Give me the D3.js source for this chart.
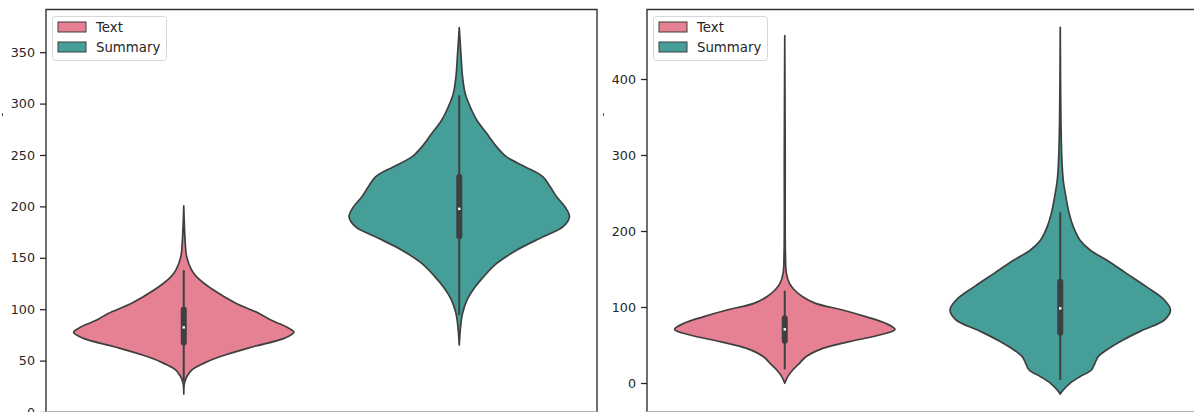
<!DOCTYPE html>
<html>
<head>
<meta charset="utf-8">
<script src="https://cdn.jsdelivr.net/npm/d3@7"></script>
<style>
  body { margin: 0; background: #fff; }
  svg { display: block; font-family: "DejaVu Sans", sans-serif; }
</style>
</head>
<body>
<div id="chart"></div>
<script>
const width = 1194;
const height = 412;

const categories = ["Text", "Summary"];
const colors = ["#e68193", "#459e97"];

// violin outlines: [value, relative width]
const leftText = [[17.5, 0], [27.9, 0.006], [34.3, 0.027], [40.8, 0.072], [47.3, 0.18], [53.7, 0.325],
    [63.5, 0.63], [71.6, 0.91], [77.5, 1], [82.9, 0.93], [89.4, 0.79], [95.9, 0.685], [105.6, 0.477],
    [118.6, 0.27], [131.5, 0.117], [138, 0.072], [150.9, 0.027], [167.2, 0.012], [200.5, 0]];
const leftSummary = [[65.1, 0], [82.9, 0.012], [95.9, 0.03], [108.8, 0.07], [121.8, 0.145], [131.5, 0.22],
    [144.5, 0.34], [157.4, 0.52], [170.4, 0.76], [180.1, 0.94], [189.8, 1], [199.5, 0.96], [209.2, 0.885],
    [219, 0.825], [228.7, 0.76], [238.4, 0.6], [248.1, 0.43], [257.9, 0.34], [270.8, 0.25], [283.8, 0.16],
    [296.7, 0.1], [309.7, 0.054], [325.9, 0.03], [348.6, 0.015], [373.8, 0]];
const rightText = [[-0.4, 0], [8.3, 0.027], [17.1, 0.072], [25.9, 0.133], [34.6, 0.193], [45.6, 0.345],
    [54.4, 0.585], [63.2, 0.86], [70.6, 1], [78.5, 0.915], [87.3, 0.735], [96.1, 0.525], [104.8, 0.28],
    [113.6, 0.163], [122.4, 0.088], [131.1, 0.043], [144.3, 0.015], [170.6, 0.006], [302, 0.004], [457, 0]];
const rightSummary = [[-14.5, 0], [-9.2, 0.027], [-0.4, 0.088], [8.3, 0.178], [17.1, 0.283], [25.9, 0.314],
    [34.6, 0.344], [43.4, 0.42], [56.6, 0.57], [69.7, 0.75], [82.9, 0.945], [96.1, 1], [109.2, 0.945],
    [126.8, 0.78], [144.3, 0.6], [161.8, 0.42], [175, 0.27], [188.2, 0.178], [205.7, 0.118], [223.2, 0.081],
    [245.2, 0.051], [267.1, 0.027], [293.4, 0.015], [346, 0.006], [468, 0]];

// inner boxes: [q1, q3, median, whisker low, whisker high]
const leftBoxes = [[67.7, 99.8, 82.3, 30, 138], [171, 228.7, 197.6, 94.3, 308]];
const rightBoxes = [[55.7, 85.1, 70.6, 18, 121.5], [66.2, 133.3, 98.2, 3.9, 224.6]];

const leftTicks = [0, 50, 100, 150, 200, 250, 300, 350];
const rightTicks = [0, 100, 200, 300, 400];

const svg = d3.select("#chart").append("svg")
    .attr("width", width)
    .attr("height", height);

function drawPanel(x0, x1, yScale, ticks, violins, boxes) {
    const g = svg.append("g");

    const xScale = d3.scaleBand().domain(categories).range([x0, x1]);
    const half = xScale.bandwidth() * 0.4;

    violins.forEach((v, i) => {
        const cx = xScale(categories[i]) + xScale.bandwidth() / 2;
        const area = d3.area()
            .y(d => yScale(d[0]))
            .x0(d => cx - d[1] * half)
            .x1(d => cx + d[1] * half)
            .curve(d3.curveCatmullRom.alpha(0.5));

        g.append("path")
            .attr("d", area(v))
            .attr("fill", colors[i])
            .attr("stroke", "#3f3f3f")
            .attr("stroke-width", 1.7)
            .attr("stroke-linejoin", "round");

        const b = boxes[i];
        g.append("line")
            .attr("x1", cx).attr("x2", cx)
            .attr("y1", yScale(b[3])).attr("y2", yScale(b[4]))
            .attr("stroke", "#3f3f3f")
            .attr("stroke-width", 2);
        g.append("line")
            .attr("x1", cx).attr("x2", cx)
            .attr("y1", yScale(b[0])).attr("y2", yScale(b[1]))
            .attr("stroke", "#3f3f3f")
            .attr("stroke-width", 6)
            .attr("stroke-linecap", "round");
        g.append("rect")
            .attr("x", cx - 1.2)
            .attr("y", yScale(b[2]) - 1.2)
            .attr("width", 2.4)
            .attr("height", 2.4)
            .attr("fill", "#fff");
    });

    // spines
    g.append("path")
        .attr("d", `M${x0},${height} V9.5 H${x1} V${height}`)
        .attr("fill", "none")
        .attr("stroke", "#333")
        .attr("stroke-width", 1.4);
    g.append("line")
        .attr("x1", x0).attr("x2", x1)
        .attr("y1", 411.5).attr("y2", 411.5)
        .attr("stroke", "#b0b0b0")
        .attr("stroke-width", 1);

    const yAxis = d3.axisLeft(yScale)
        .tickValues(ticks)
        .tickSize(6)
        .tickPadding(5);
    const axisG = g.append("g")
        .attr("transform", `translate(${x0},0)`)
        .call(yAxis);
    axisG.select(".domain").remove();
    axisG.selectAll(".tick line").attr("stroke", "#262626").attr("stroke-width", 1.25);
    axisG.selectAll(".tick text")
        .attr("fill", "#262626")
        .style("font-size", "12.7px")
        .style("font-family", "DejaVu Sans, sans-serif");

    // legend
    const lg = g.append("g").attr("transform", `translate(${x0 + 6.5},16.5)`);
    lg.append("rect")
        .attr("width", 114)
        .attr("height", 44)
        .attr("rx", 3)
        .attr("fill", "#fff")
        .attr("fill-opacity", 0.8)
        .attr("stroke", "#d6d6d6")
        .attr("stroke-width", 1);
    categories.forEach((c, i) => {
        lg.append("rect")
            .attr("x", 5.5)
            .attr("y", 5.5 + i * 20)
            .attr("width", 28)
            .attr("height", 10)
            .attr("fill", colors[i])
            .attr("stroke", "#3f3f3f")
            .attr("stroke-width", 1);
        lg.append("text")
            .attr("x", 43.5)
            .attr("y", 15.2 + i * 20)
            .attr("fill", "#262626")
            .style("font-size", "13.3px")
            .text(c);
    });

    // clipped y label remnant
    g.append("rect")
        .attr("x", x0 - 44)
        .attr("y", 113)
        .attr("width", 1)
        .attr("height", 3)
        .attr("fill", "#555");
}

const yLeft = d3.scaleLinear().domain([0, 392]).range([412, 9]);
const yRight = d3.scaleLinear().domain([0, 400]).range([383, 79]);

drawPanel(46, 597, yLeft, leftTicks, [leftText, leftSummary], leftBoxes);
drawPanel(647, 1198, yRight, rightTicks, [rightText, rightSummary], rightBoxes);
</script>
</body>
</html>
